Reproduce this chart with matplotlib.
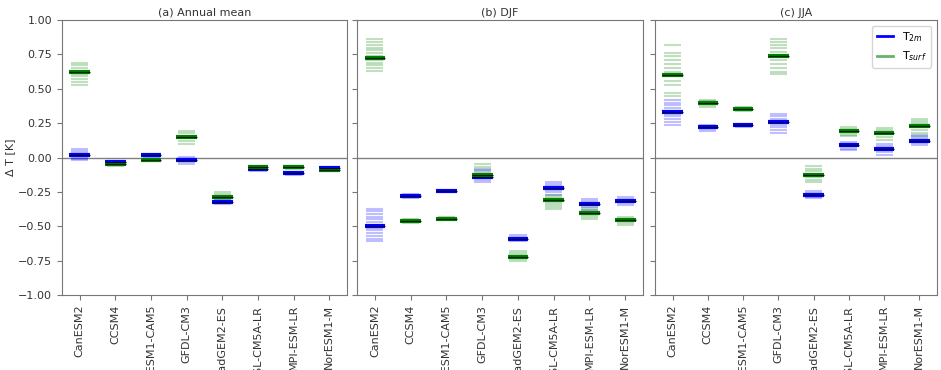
import matplotlib
matplotlib.use("Agg")
import matplotlib.pyplot as plt
import numpy as np

models = ["CanESM2", "CCSM4", "CESM1-CAM5", "GFDL-CM3", "HadGEM2-ES",
          "IPSL-CM5A-LR", "MPI-ESM-LR", "NorESM1-M"]
titles = ["(a) Annual mean", "(b) DJF", "(c) JJA"]

# annual mean
ann_t2m_mean = [0.02, -0.035, 0.015, -0.018, -0.32, -0.083, -0.115, -0.078]
ann_tsurf_mean = [0.62, -0.045, -0.017, 0.146, -0.29, -0.07, -0.07, -0.09]
ann_t2m_ens = [
    [0.06, 0.045, 0.03, 0.02, 0.01, 0.0, -0.01, -0.02],
    [-0.025, -0.03, -0.04, -0.045],
    [0.02, 0.015, 0.01, 0.005],
    [0.005, -0.01, -0.02, -0.03, -0.045],
    [-0.305, -0.315, -0.325, -0.335],
    [-0.075, -0.08, -0.09, -0.095],
    [-0.105, -0.11, -0.12, -0.125],
    [-0.07, -0.075, -0.085],
]
ann_tsurf_ens = [
    [0.69, 0.67, 0.65, 0.63, 0.61, 0.59, 0.57, 0.55, 0.53],
    [-0.035, -0.045, -0.055, -0.06],
    [-0.01, -0.015, -0.02, -0.025],
    [0.19, 0.175, 0.16, 0.14, 0.12, 0.10],
    [-0.25, -0.265, -0.28, -0.29, -0.3],
    [-0.06, -0.065, -0.075, -0.08],
    [-0.06, -0.065, -0.075, -0.08],
    [-0.08, -0.09, -0.1],
]

# DJF
djf_t2m_mean = [-0.50, -0.28, -0.245, -0.14, -0.59, -0.22, -0.335, -0.317]
djf_tsurf_mean = [0.727, -0.458, -0.445, -0.13, -0.72, -0.31, -0.40, -0.456]
djf_t2m_ens = [
    [-0.375, -0.39, -0.41, -0.43, -0.45, -0.47, -0.49, -0.51, -0.53, -0.55, -0.57, -0.59, -0.607],
    [-0.265, -0.275, -0.285, -0.295],
    [-0.24, -0.245, -0.25],
    [-0.08, -0.1, -0.12, -0.14, -0.16, -0.175],
    [-0.56, -0.575, -0.59, -0.6, -0.61],
    [-0.175, -0.19, -0.205, -0.22, -0.235, -0.25, -0.27],
    [-0.3, -0.315, -0.33, -0.345, -0.36, -0.38],
    [-0.29, -0.3, -0.315, -0.33, -0.345],
]
djf_tsurf_ens = [
    [0.86, 0.84, 0.82, 0.80, 0.78, 0.76, 0.74, 0.71, 0.69, 0.67, 0.65, 0.63],
    [-0.445, -0.455, -0.465, -0.475],
    [-0.435, -0.44, -0.45],
    [-0.05, -0.07, -0.09, -0.11, -0.13],
    [-0.68, -0.695, -0.71, -0.725, -0.74, -0.75],
    [-0.27, -0.285, -0.3, -0.315, -0.33, -0.345, -0.36, -0.375],
    [-0.37, -0.385, -0.4, -0.415, -0.43, -0.445],
    [-0.43, -0.445, -0.46, -0.475, -0.49],
]

# JJA
jja_t2m_mean = [0.334, 0.22, 0.234, 0.258, -0.273, 0.088, 0.063, 0.124]
jja_tsurf_mean = [0.60, 0.397, 0.356, 0.74, -0.127, 0.195, 0.175, 0.227]
jja_t2m_ens = [
    [0.42, 0.40, 0.38, 0.36, 0.34, 0.32, 0.30, 0.28, 0.26, 0.24],
    [0.235, 0.225, 0.215, 0.205, 0.195],
    [0.245, 0.235, 0.225],
    [0.32, 0.30, 0.28, 0.26, 0.24, 0.22, 0.20, 0.18],
    [-0.24, -0.255, -0.27, -0.285, -0.295],
    [0.115, 0.1, 0.09, 0.08, 0.065, 0.055],
    [0.1, 0.085, 0.07, 0.055, 0.04, 0.02],
    [0.165, 0.15, 0.135, 0.12, 0.105, 0.09],
]
jja_tsurf_ens = [
    [0.82, 0.76, 0.74, 0.71, 0.68, 0.65, 0.62, 0.59, 0.56, 0.53, 0.47, 0.45],
    [0.42, 0.41, 0.395, 0.38, 0.37],
    [0.37, 0.36, 0.35, 0.34],
    [0.865, 0.84, 0.82, 0.80, 0.77, 0.74, 0.71, 0.68, 0.65, 0.625, 0.605],
    [-0.06, -0.08, -0.1, -0.12, -0.14, -0.16, -0.175],
    [0.225, 0.21, 0.195, 0.18, 0.165, 0.155],
    [0.215, 0.2, 0.185, 0.17, 0.15, 0.125],
    [0.28, 0.265, 0.25, 0.235, 0.22, 0.2, 0.18, 0.16],
]

panels = [
    (ann_t2m_mean, ann_tsurf_mean, ann_t2m_ens, ann_tsurf_ens),
    (djf_t2m_mean, djf_tsurf_mean, djf_t2m_ens, djf_tsurf_ens),
    (jja_t2m_mean, jja_tsurf_mean, jja_t2m_ens, jja_tsurf_ens),
]

fig = plt.figure(figsize=(9.41, 3.70), dpi=100)
lefts = [0.0659, 0.3794, 0.696]
widths = [0.3029, 0.304, 0.2997]
axes = [fig.add_axes([l, 0.2027, w, 0.743]) for l, w in zip(lefts, widths)]

x = np.arange(len(models))
hw_ens, hw_mean = 0.24, 0.29
spine_col = "#777777"
txt_col = "#333333"

for i, ax in enumerate(axes):
    t2m_mean, tsurf_mean, t2m_ens, tsurf_ens = panels[i]
    ax.axhline(0, color="grey", lw=1, zorder=1)
    for j in range(len(models)):
        for v in t2m_ens[j]:
            ax.hlines(v, x[j] - hw_ens, x[j] + hw_ens, color="blue", alpha=0.25, lw=1.5, zorder=2)
        for v in tsurf_ens[j]:
            ax.hlines(v, x[j] - hw_ens, x[j] + hw_ens, color="green", alpha=0.25, lw=1.5, zorder=2)
    ax.hlines(t2m_mean, x - hw_mean, x + hw_mean, color="blue", lw=3, zorder=3)
    ax.hlines(tsurf_mean, x - hw_mean, x + hw_mean, color="green", lw=3, zorder=3)
    ax.hlines(t2m_mean, x - hw_mean, x + hw_mean, color="#000044", lw=0.9, zorder=4)
    ax.hlines(tsurf_mean, x - hw_mean, x + hw_mean, color="#002200", lw=0.9, zorder=4)

    ax.set_xlim(-0.5, len(models) - 0.5)
    ax.set_ylim(-1, 1)
    ax.set_yticks(np.arange(-1, 1.01, 0.25))
    ax.set_xticks(x)
    ax.set_xticklabels(models, rotation=90)
    ax.set_title(titles[i], fontsize=8, color=txt_col, pad=3)
    for s in ax.spines.values():
        s.set_color(spine_col)
    ax.tick_params(colors=spine_col, labelcolor=txt_col, labelsize=8)
    if i == 0:
        ax.set_ylabel("Δ T [K]", fontsize=8, color=txt_col)
        ax.yaxis.set_label_coords(-0.165, 0.5)
    else:
        ax.set_yticklabels([])

axes[2].plot([], [], color="blue", lw=2, label="T$_{2m}$")
axes[2].plot([], [], color="green", lw=2, alpha=0.6, label="T$_{surf}$")
axes[2].legend(loc="upper right", fontsize=8, handlelength=1.5)

fig.savefig("out.png", dpi=100)
